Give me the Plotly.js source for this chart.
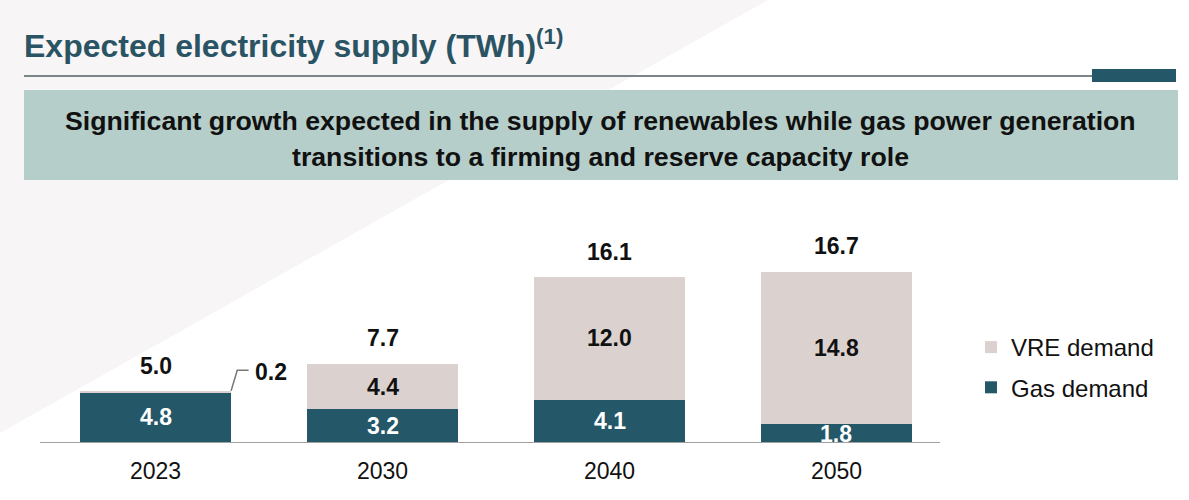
<!DOCTYPE html>
<html>
<head>
<meta charset="utf-8">
<script src="https://cdn.plot.ly/plotly-3.0.1.min.js"></script>
<style>html,body{margin:0;padding:0;background:#fff;}#chart{width:1189px;height:500px;}</style>
</head>
<body>
<div id="chart"></div>
<script>
const years = ['2023', '2030', '2040', '2050'];
const gasDemand = [4.8, 3.2, 4.1, 1.8];
const vreDemand = [0.2, 4.4, 12.0, 14.8];
const totals = [5.0, 7.7, 16.1, 16.7];

const GAS = '#245868';
const VRE = '#dbd2cf';
const W = 1189, H = 500;
const px = v => v / W;
const py = v => 1 - v / H;

const traces = [
  {type: 'bar', name: 'Gas demand', x: years, y: gasDemand, marker: {color: GAS}, width: 0.665, legendgroup: 'b', legendrank: 2, hoverinfo: 'skip'},
  {type: 'bar', name: 'VRE demand', x: years, y: vreDemand, marker: {color: VRE}, width: 0.665, legendgroup: 'a', legendrank: 1, hoverinfo: 'skip'}
];

const ann = [];
const font = 'Liberation Sans, Arial, sans-serif';
ann.push({xref: 'paper', yref: 'paper', x: px(22), y: py(44), xanchor: 'left', yanchor: 'middle', showarrow: false,
  text: '<b>Expected electricity supply (TWh)<sup>(1)</sup></b>', font: {family: font, size: 32, color: '#2a5464'}});
ann.push({xref: 'paper', yref: 'paper', x: px(600), y: py(121), xanchor: 'center', yanchor: 'middle', showarrow: false,
  text: '<b>Significant growth expected in the supply of renewables while gas power generation</b>', font: {family: font, size: 26.7, color: '#111'}});
ann.push({xref: 'paper', yref: 'paper', x: px(600), y: py(157), xanchor: 'center', yanchor: 'middle', showarrow: false,
  text: '<b>transitions to a firming and reserve capacity role</b>', font: {family: font, size: 26.7, color: '#111'}});

years.forEach((yr, i) => {
  ann.push({xref: 'x', yref: 'y', x: i, y: totals[i], yshift: 25, showarrow: false, text: '<b>' + totals[i].toFixed(1) + '</b>',
    font: {family: font, size: 23, color: '#111'}, yanchor: 'middle'});
  ann.push({xref: 'x', yref: 'y', x: i, y: gasDemand[i] / 2, showarrow: false, text: '<b>' + gasDemand[i].toFixed(1) + '</b>',
    font: {family: font, size: 23, color: '#fff'}, yanchor: 'middle', yshift: i === 3 ? -1 : 0});
  if (vreDemand[i] >= 1) {
    ann.push({xref: 'x', yref: 'y', x: i, y: gasDemand[i] + vreDemand[i] / 2, showarrow: false, text: '<b>' + vreDemand[i].toFixed(1) + '</b>',
      font: {family: font, size: 23, color: '#111'}, yanchor: 'middle'});
  }
});
ann.push({xref: 'x', yref: 'y', x: 0.43, y: 6.85, xanchor: 'left', yanchor: 'middle', showarrow: false, text: '<b>' + vreDemand[0].toFixed(1) + '</b>',
  font: {family: font, size: 23, color: '#111'}});

const shapes = [
  {type: 'path', xref: 'paper', yref: 'paper', path: `M 0 1 L ${px(768)} 1 L 0 ${py(433)} Z`,
    fillcolor: '#f7f5f6', line: {width: 0}, layer: 'below'},
  {type: 'line', xref: 'paper', yref: 'paper', x0: px(24), x1: px(1092), y0: py(76), y1: py(76), line: {color: '#7b8587', width: 2}},
  {type: 'rect', xref: 'paper', yref: 'paper', x0: px(1092), x1: px(1176), y0: py(69), y1: py(82), fillcolor: '#245868', line: {width: 0}},
  {type: 'rect', xref: 'paper', yref: 'paper', x0: px(24), x1: px(1178), y0: py(90), y1: py(180), fillcolor: '#b6cec9', line: {width: 0}, layer: 'below'},
  {type: 'path', xref: 'x', yref: 'y', path: 'M 0.333,5.0 L 0.36,7.0 L 0.41,7.0', line: {color: '#777', width: 1.5}}
];

const layout = {
  width: W, height: H,
  margin: {l: 0, r: 0, t: 0, b: 0},
  paper_bgcolor: 'rgba(0,0,0,0)', plot_bgcolor: 'rgba(0,0,0,0)',
  barmode: 'stack',
  showlegend: true,
  legend: {x: px(971), y: py(325), xanchor: 'left', yanchor: 'top', traceorder: 'grouped', tracegroupgap: 6,
    font: {family: font, size: 24, color: '#111'}, bgcolor: 'rgba(0,0,0,0)'},
  xaxis: {type: 'category', domain: [px(40), px(940)], range: [-0.509, 3.456], showline: true, linecolor: '#a0a0a0', linewidth: 1,
    ticks: '', ticklabelstandoff: 8, showgrid: false, zeroline: false, tickfont: {family: font, size: 23, color: '#111'}, anchor: 'y', fixedrange: true},
  yaxis: {domain: [1 - 442 / H, 1 - 196 / H], range: [0, 24], visible: false, showgrid: false, zeroline: false, fixedrange: true},
  annotations: ann,
  shapes: shapes
};

Plotly.newPlot('chart', traces, layout, {displayModeBar: false, staticPlot: true});
</script>
</body>
</html>
